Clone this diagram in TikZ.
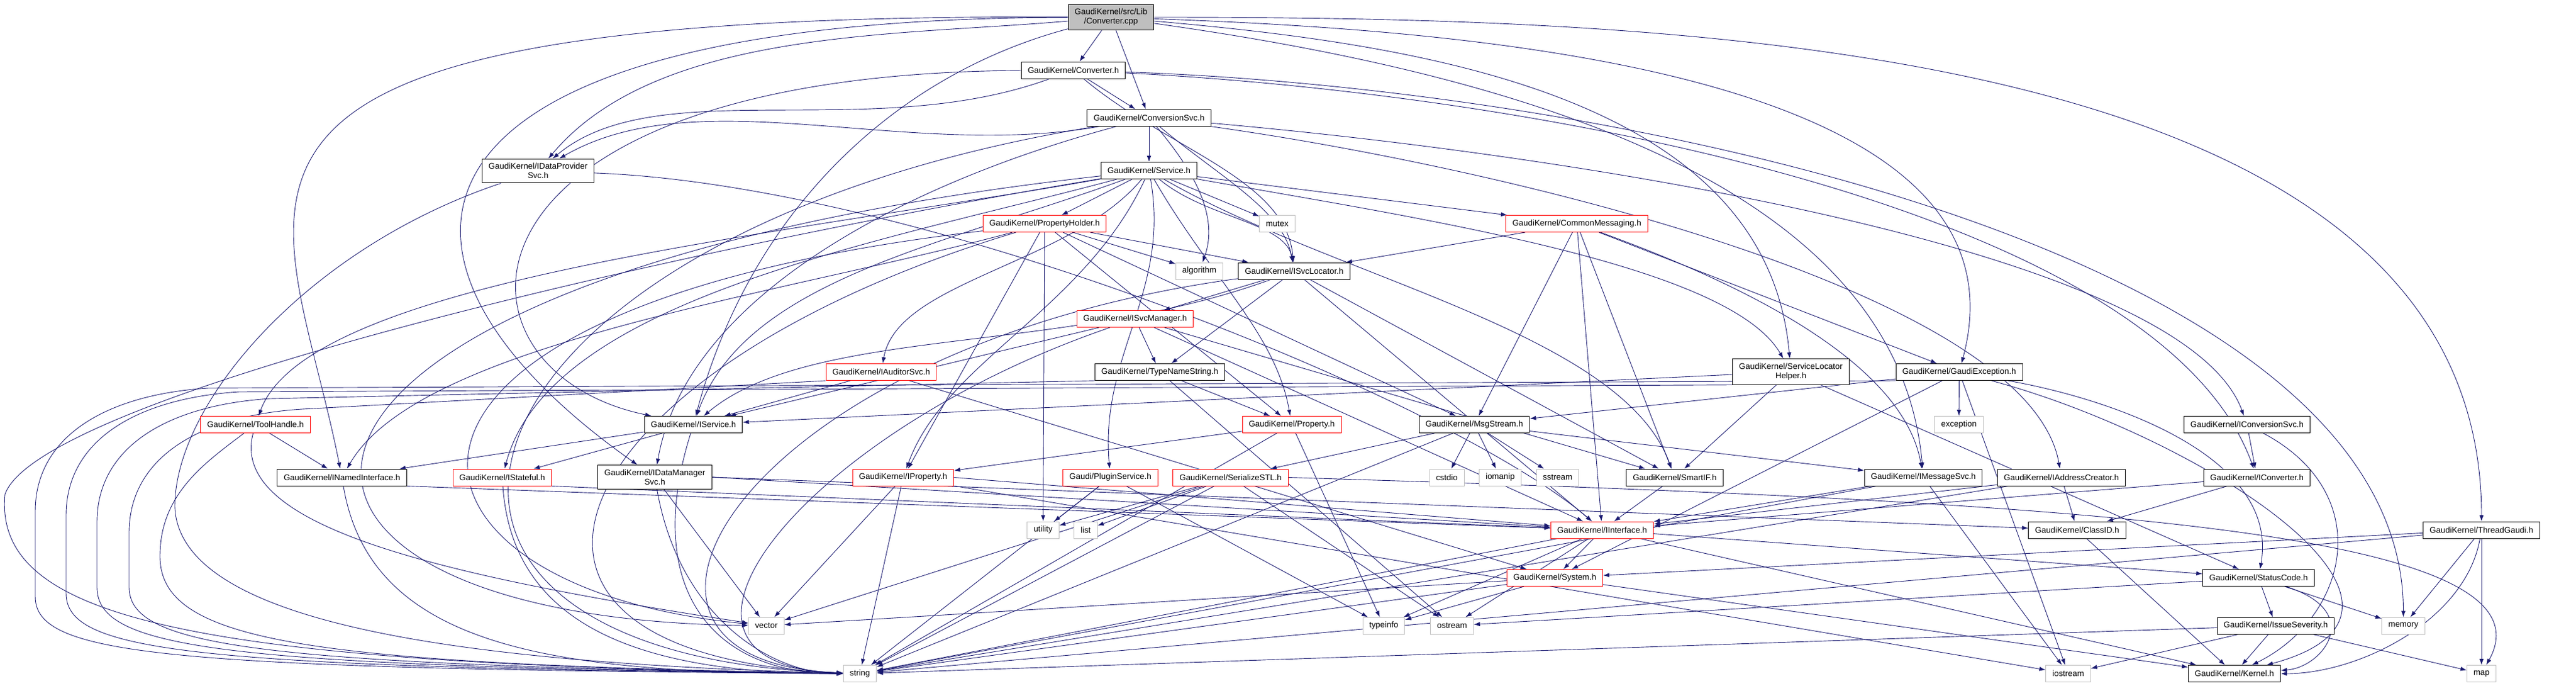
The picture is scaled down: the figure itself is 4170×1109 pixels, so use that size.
\documentclass[tikz,border=0pt]{standalone}
\usepackage{fontspec}
\setmainfont{Liberation Sans}
\usepackage{tikz}
\usetikzlibrary{arrows.meta}
\definecolor{edgeblue}{RGB}{25,25,112}
\definecolor{boxgray}{RGB}{191,191,191}
\pgfdeclarelayer{edges}
\pgfsetlayers{edges,main}

\begin{document}
\begin{tikzpicture}[x=1pt, y=1pt,
    hdr/.style={draw=black, fill=white, line width=1pt, inner xsep=10.5pt, inner ysep=7pt,
        minimum height=27pt, align=center, font=\fontsize{13.4}{15}\selectfont},
    trunchdr/.style={hdr, draw=red},
    stdhdr/.style={hdr, draw=boxgray},
    inc/.style={draw=edgeblue, line width=0.9pt, -{Latex[length=10pt,width=7pt]}}]
    \useasboundingbox (0,0) rectangle (4170,-1109);
    \node[hdr, fill=boxgray] (root) at (1798.5,-28) {GaudiKernel/src/Lib\\/Converter.cpp};
    \node[hdr] (cnvh) at (1737.5,-113.5) {GaudiKernel/Converter.h};
    \node[hdr] (csvc) at (1860,-190.5) {GaudiKernel/ConversionSvc.h};
    \node[hdr] (dps) at (871,-276.5) {GaudiKernel/IDataProvider\\Svc.h};
    \node[hdr] (svc) at (1860,-276) {GaudiKernel/Service.h};
    \node[trunchdr] (ph) at (1691,-362) {GaudiKernel/PropertyHolder.h};
    \node[stdhdr] (mutex) at (2067.5,-362) {mutex};
    \node[trunchdr] (cm) at (2552.5,-362) {GaudiKernel/CommonMessaging.h};
    \node[stdhdr] (algo) at (1941.5,-438.5) {algorithm};
    \node[hdr] (isl) at (2095,-438.5) {GaudiKernel/ISvcLocator.h};
    \node[trunchdr] (ism) at (1837.5,-516) {GaudiKernel/ISvcManager.h};
    \node[trunchdr] (ias) at (1426.5,-602) {GaudiKernel/IAuditorSvc.h};
    \node[hdr] (tns) at (1877.5,-602) {GaudiKernel/TypeNameString.h};
    \node[hdr] (slh) at (2899,-601.5) {GaudiKernel/ServiceLocator\\Helper.h};
    \node[hdr] (gex) at (3171.5,-602) {GaudiKernel/GaudiException.h};
    \node[trunchdr] (th) at (413.5,-687) {GaudiKernel/ToolHandle.h};
    \node[hdr] (isv) at (1122.5,-687) {GaudiKernel/IService.h};
    \node[trunchdr] (prop) at (2091,-687) {GaudiKernel/Property.h};
    \node[hdr] (msg) at (2386.5,-687) {GaudiKernel/MsgStream.h};
    \node[stdhdr] (exc) at (3171,-687) {exception};
    \node[hdr] (icsvc) at (3637.5,-687) {GaudiKernel/IConversionSvc.h};
    \node[hdr] (ini) at (553.5,-772.5) {GaudiKernel/INamedInterface.h};
    \node[trunchdr] (ist) at (813,-772.5) {GaudiKernel/IStateful.h};
    \node[hdr] (dms) at (1060,-772) {GaudiKernel/IDataManager\\Svc.h};
    \node[trunchdr] (iprop) at (1462,-772.5) {GaudiKernel/IProperty.h};
    \node[trunchdr] (plug) at (1797.5,-772.5) {Gaudi/PluginService.h};
    \node[trunchdr] (ser) at (1992,-772.5) {GaudiKernel/SerializeSTL.h};
    \node[stdhdr] (cstdio) at (2342,-772.5) {cstdio};
    \node[stdhdr] (iomanip) at (2428.5,-772.5) {iomanip};
    \node[stdhdr] (sstream) at (2521.5,-772.5) {sstream};
    \node[hdr] (sif) at (2711,-772.5) {GaudiKernel/SmartIF.h};
    \node[hdr] (imsg) at (3113.5,-772.5) {GaudiKernel/IMessageSvc.h};
    \node[hdr] (iac) at (3337,-772.5) {GaudiKernel/IAddressCreator.h};
    \node[hdr] (icnv) at (3653.5,-772.5) {GaudiKernel/IConverter.h};
    \node[stdhdr] (util) at (1688.5,-857.5) {utility};
    \node[stdhdr] (lst) at (1757.5,-857.5) {list};
    \node[trunchdr] (iif) at (2593.5,-857.5) {GaudiKernel/IInterface.h};
    \node[hdr] (cid) at (3362.5,-857.5) {GaudiKernel/ClassID.h};
    \node[hdr] (tg) at (4017,-857.5) {GaudiKernel/ThreadGaudi.h};
    \node[trunchdr] (syst) at (2517,-935) {GaudiKernel/System.h};
    \node[hdr] (sc) at (3656,-935) {GaudiKernel/StatusCode.h};
    \node[stdhdr] (vect) at (1240.5,-1012.5) {vector};
    \node[stdhdr] (tinfo) at (2240,-1012.5) {typeinfo};
    \node[stdhdr] (ostr) at (2350.5,-1012.5) {ostream};
    \node[hdr] (isev) at (3684,-1012.5) {GaudiKernel/IssueSeverity.h};
    \node[stdhdr] (memry) at (3890.5,-1012.5) {memory};
    \node[stdhdr] (str) at (1392,-1090) {string};
    \node[stdhdr] (iostr) at (3348,-1090) {iostream};
    \node[hdr] (kern) at (3617,-1090) {GaudiKernel/Kernel.h};
    \node[stdhdr] (map) at (4017,-1090) {map};
    \begin{pgfonlayer}{edges}
    \draw[inc] (root) -- (cnvh);
    \draw[inc] (root) -- (csvc);
    \draw[inc] (root) .. controls +(185:350) and +(50:300) .. (dps);
    \draw[inc] (root) .. controls (200,-20) and (460,-300) .. (ini);
    \draw[inc] (root) .. controls (600,-30) and (560,-420) .. (dms);
    \draw[inc] (root) .. controls +(195:370) and +(75:350) .. (isv);
    \draw[inc] (root) .. controls +(-2:600) and +(75:500) .. (gex);
    \draw[inc] (root) .. controls +(0:900) and +(90:800) .. (tg);
    \draw[inc] (root) .. controls +(-5:500) and +(95:450) .. (slh);
    \draw[inc] (root) .. controls +(-8:600) and +(95:500) .. (imsg);
    \draw[inc] (cnvh) -- (csvc);
    \draw[inc] (cnvh) .. controls +(200:350) and +(40:250) .. (dps);
    \draw[inc] (cnvh) .. controls (700,-120) and (700,-600) .. (isv);
    \draw[inc] (cnvh) .. controls +(-40:200) and +(95:150) .. (isl);
    \draw[inc] (cnvh) .. controls +(-3:800) and +(110:450) .. (icnv);
    \draw[inc] (cnvh) .. controls +(-2:900) and +(90:600) .. (memry);
    \draw[inc] (csvc) -- (svc);
    \draw[inc] (csvc) .. controls +(190:400) and +(30:300) .. (dps);
    \draw[inc] (csvc) .. controls +(195:400) and +(80:300) .. (dms);
    \draw[inc] (csvc) .. controls (700,-380) and (500,-1060) .. (str);
    \draw[inc] (csvc) .. controls +(-50:100) and +(70:100) .. (algo);
    \draw[inc] (csvc) .. controls +(-40:150) and +(100:100) .. (isl);
    \draw[inc] (csvc) .. controls +(-5:700) and +(110:300) .. (icsvc);
    \draw[inc] (csvc) .. controls +(-8:600) and +(100:300) .. (iac);
    \draw[inc] (dps) .. controls (500,-400) and (283,-650) .. (283,-820)
        .. controls (290,-1000) and (700,-1072) .. (str);
    \draw[inc] (dps) .. controls (1500,-300) and (2350,-650) .. (iif);
    \draw[inc] (svc) -- (ph);
    \draw[inc] (svc) -- (mutex);
    \draw[inc] (svc) -- (cm);
    \draw[inc] (svc) .. controls +(-40:120) and +(100:80) .. (isl);
    \draw[inc] (svc) .. controls +(200:350) and +(70:250) .. (isv);
    \draw[inc] (svc) .. controls +(-115:250) and +(70:200) .. (iprop);
    \draw[inc] (svc) .. controls +(-130:200) and +(80:150) .. (ias);
    \draw[inc] (svc) .. controls +(190:600) and +(70:250) .. (th);
    \draw[inc] (svc) .. controls +(195:450) and +(75:300) .. (ist);
    \draw[inc] (svc) .. controls +(-60:200) and +(100:150) .. (prop);
    \draw[inc] (svc) .. controls +(-30:350) and +(110:250) .. (sif);
    \draw[inc] (svc) .. controls +(-80:200) and +(95:200) .. (plug);
    \draw[inc] (svc) .. controls (300,-450) and (300,-1000) .. (vect);
    \draw[inc] (svc) .. controls (1000,-420) and (60,-650) .. (8,-800)
        .. controls (-10,-1000) and (300,-1075) .. (str);
    \draw[inc] (svc) .. controls +(-10:450) and +(120:200) .. (slh);
    \draw[inc] (ph) -- (algo);
    \draw[inc] (ph) -- (isl);
    \draw[inc] (ph) -- (iprop);
    \draw[inc] (ph) -- (prop);
    \draw[inc] (ph) .. controls +(195:450) and +(60:250) .. (ini);
    \draw[inc] (ph) -- (msg);
    \draw[inc] (ph) -- (util);
    \draw[inc] (ph) .. controls (500,-500) and (600,-950) .. (vect);
    \draw[inc] (ph) .. controls (900,-600) and (700,-1060) .. (str);
    \draw[inc] (cm) -- (isl);
    \draw[inc] (cm) -- (msg);
    \draw[inc] (cm) .. controls +(-20:250) and +(100:200) .. (imsg);
    \draw[inc] (cm) -- (sif);
    \draw[inc] (cm) -- (iif);
    \draw[inc] (cm) -- (gex);
    \draw[inc] (isl) -- (ism);
    \draw[inc] (isl) -- (tns);
    \draw[inc] (isl) .. controls +(200:400) and +(40:250) .. (isv);
    \draw[inc] (isl) -- (sif);
    \draw[inc] (isl) -- (iif);
    \draw[inc] (isl) .. controls (1200,-560) and (900,-1070) .. (str);
    \draw[inc] (ism) -- (tns);
    \draw[inc] (ism) -- (isv);
    \draw[inc] (ism) -- (iif);
    \draw[inc] (ism) -- (sif);
    \draw[inc] (ism) .. controls (1300,-700) and (1000,-1075) .. (str);
    \draw[inc] (tns) -- (prop);
    \draw[inc] (tns.south west) -- (437,-645) .. controls (277,-655) and (157,-720) .. (157,-845)
        -- (157,-950) .. controls (157,-1050) and (357,-1078) .. (str);
    \draw[inc] (tns) -- (ostr);
    \draw[inc] (ias) -- (isv);
    \draw[inc] (ias.south west) -- (489,-662) .. controls (329,-672) and (209,-737) .. (209,-862)
        -- (209,-950) .. controls (209,-1045) and (409,-1076) .. (str);
    \draw[inc] (ias) -- (syst);
    \draw[inc] (slh) -- (isv);
    \draw[inc] (slh) -- (sif);
    \draw[inc] (slh.south west) -- (387,-634) .. controls (227,-644) and (107,-709) .. (107,-834)
        -- (107,-960) .. controls (107,-1055) and (307,-1080) .. (str);
    \draw[inc] (slh) -- (sc);
    \draw[inc] (gex) -- (exc);
    \draw[inc] (gex) -- (msg);
    \draw[inc] (gex) -- (syst);
    \draw[inc] (gex) -- (iostr);
    \draw[inc] (gex) .. controls +(-10:250) and +(80:200) .. (sc);
    \draw[inc] (gex) .. controls +(-15:400) and +(15:400) .. (kern);
    \draw[inc] (gex.south west) -- (337,-628) .. controls (177,-638) and (57,-703) .. (57,-828)
        -- (57,-965) .. controls (57,-1060) and (257,-1082) .. (str);
    \draw[inc] (th) -- (ini);
    \draw[inc] (th) .. controls (330,-750) and (259,-800) .. (259,-900)
        .. controls (259,-1040) and (500,-1074) .. (str);
    \draw[inc] (th) .. controls (370,-850) and (700,-930) .. (vect);
    \draw[inc] (isv) -- (ini);
    \draw[inc] (isv) -- (ist);
    \draw[inc] (isv) .. controls (1040,-950) and (1150,-1090) .. (str);
    \draw[inc] (prop) -- (iprop);
    \draw[inc] (prop) -- (str);
    \draw[inc] (prop) -- (tinfo);
    \draw[inc] (msg) -- (ser);
    \draw[inc] (msg) -- (cstdio);
    \draw[inc] (msg) -- (iomanip);
    \draw[inc] (msg) -- (sstream);
    \draw[inc] (msg) -- (imsg);
    \draw[inc] (msg) -- (str);
    \draw[inc] (icsvc) -- (icnv);
    \draw[inc] (icsvc) .. controls (3850,-800) and (3800,-1000) .. (kern);
    \draw[inc] (ini.south east) -- (iif);
    \draw[inc] (ini) .. controls (600,-1050) and (900,-1090) .. (str);
    \draw[inc] (ist.south east) -- (iif);
    \draw[inc] (ist) .. controls (830,-1020) and (1050,-1090) .. (str);
    \draw[inc] (dms.east) -- (iif);
    \draw[inc] (dms.east) -- (cid);
    \draw[inc] (dms) -- (vect);
    \draw[inc] (dms) .. controls (1100,-1000) and (1250,-1090) .. (str);
    \draw[inc] (iprop.east) -- (iif);
    \draw[inc] (iprop) -- (str);
    \draw[inc] (iprop) -- (vect);
    \draw[inc] (iprop) -- (iostr);
    \draw[inc] (plug) -- (util);
    \draw[inc] (plug) -- (str);
    \draw[inc] (plug) -- (tinfo);
    \draw[inc] (ser) -- (util);
    \draw[inc] (ser) -- (lst);
    \draw[inc] (ser) -- (vect);
    \draw[inc] (ser) -- (str);
    \draw[inc] (ser) -- (ostr);
    \draw[inc] (ser.east) .. controls (3300,-810) and (4150,-850) .. (map);
    \draw[inc] (sif) -- (iif);
    \draw[inc] (imsg) -- (iif);
    \draw[inc] (imsg) -- (str);
    \draw[inc] (imsg) -- (iostr);
    \draw[inc] (iac) -- (iif);
    \draw[inc] (iac) -- (cid);
    \draw[inc] (iac) -- (str);
    \draw[inc] (icnv) -- (iif);
    \draw[inc] (icnv) -- (cid);
    \draw[inc] (iif) -- (syst);
    \draw[inc] (iif) -- (sc);
    \draw[inc] (iif) -- (kern);
    \draw[inc] (iif) -- (tinfo);
    \draw[inc] (iif) -- (ostr);
    \draw[inc] (iif) -- (str);
    \draw[inc] (cid) -- (kern);
    \draw[inc] (tg) -- (syst);
    \draw[inc] (tg) -- (memry);
    \draw[inc] (tg) -- (map);
    \draw[inc] (tg) .. controls +(-100:150) and +(0:200) .. (kern);
    \draw[inc] (tg) -- (str);
    \draw[inc] (syst) -- (vect);
    \draw[inc] (syst) -- (tinfo);
    \draw[inc] (syst) -- (str);
    \draw[inc] (syst) -- (kern);
    \draw[inc] (sc) -- (ostr);
    \draw[inc] (sc) -- (isev);
    \draw[inc] (sc) -- (memry);
    \draw[inc] (sc) .. controls (3830,-990) and (3760,-1080) .. (kern);
    \draw[inc] (isev) -- (kern);
    \draw[inc] (isev) -- (iostr);
    \draw[inc] (isev) -- (map);
    \draw[inc] (isev) -- (str);
    \end{pgfonlayer}
\end{tikzpicture}
\end{document}
